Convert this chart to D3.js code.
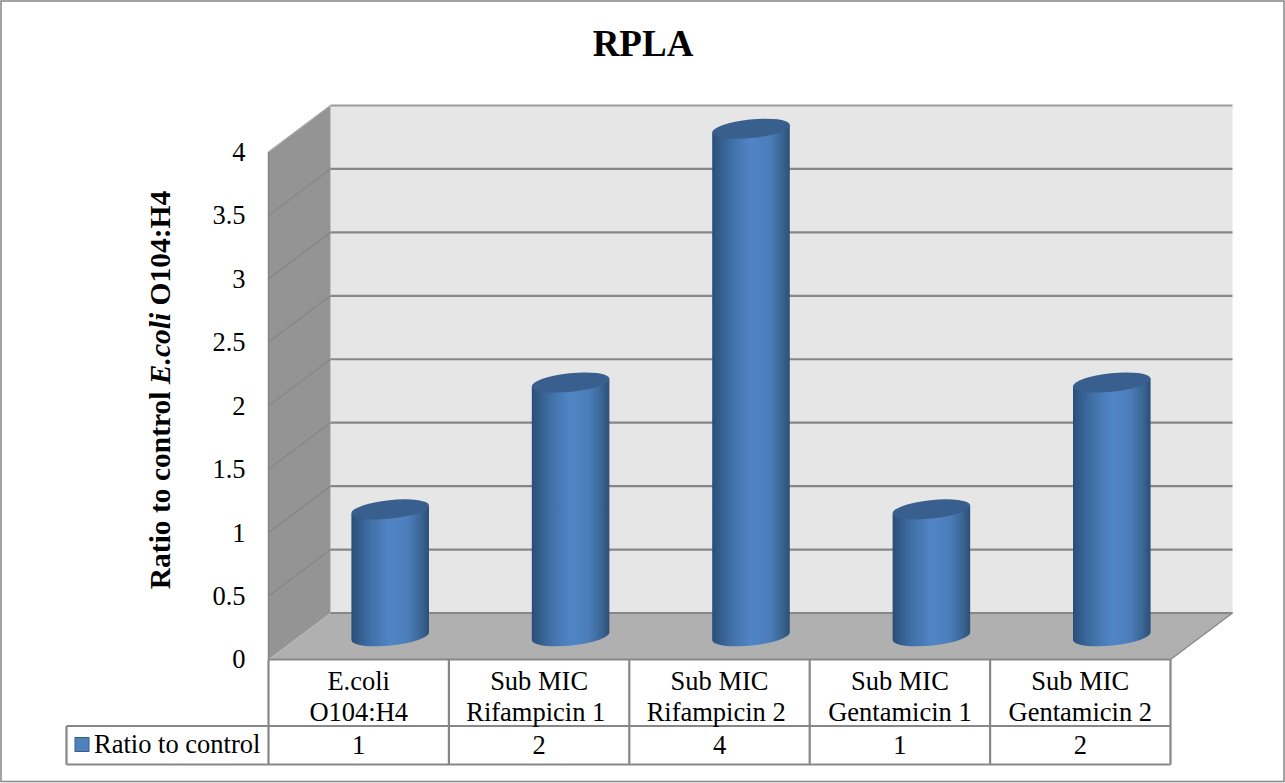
<!DOCTYPE html>
<html>
<head>
<meta charset="utf-8">
<script src="https://cdn.jsdelivr.net/npm/d3@7"></script>
<style>
  html, body { margin: 0; padding: 0; background: #fff; }
  svg { display: block; }
  text { font-family: "Liberation Serif", serif; fill: #000; white-space: pre; }
</style>
</head>
<body>
<svg id="chart" width="1285" height="783"></svg>
<script>
// RPLA: ratio to control per treatment group
const categories = ["E.coli|O104:H4", "Sub MIC|Rifampicin 1 ", "Sub MIC|Rifampicin 2 ", "Sub MIC|Gentamicin 1", "Sub MIC|Gentamicin 2"];
const values = [1, 2, 4, 1, 2];
const yTicks = [0, 0.5, 1, 1.5, 2, 2.5, 3, 3.5, 4];
const seriesName = "Ratio to control";
const chartTitle = "RPLA";

const svg = d3.select("#chart");
const depthX = 62, depthY = -46.5;
const x = d3.scaleBand().domain(categories).range([268.5, 1170.5]);
const y = d3.scaleLinear().domain([0, 4]).range([659.5, 152]);
const x0 = x.range()[0], x1 = x.range()[1], y0 = y(0), yTop = y(4);
const gridColor = "#878787";

// Outer frame of the chart area
svg.append("rect").attr("x", 1).attr("y", 1).attr("width", 1283).attr("height", 780.5)
  .attr("fill", "#fff").attr("stroke", "#8c8c8c").attr("stroke-width", 1.6);

// Cylinder shading
const defs = svg.append("defs");
const grad = defs.append("linearGradient").attr("id", "cyl").attr("x1", 0).attr("x2", 1).attr("y1", 0).attr("y2", 0);
[[0, "#2a4c74"], [0.05, "#2f5683"], [0.25, "#4170a7"], [0.5, "#5085c5"], [0.74, "#4b7dba"], [0.9, "#3a6593"], [1, "#2c4f76"]]
  .forEach(([o, c]) => grad.append("stop").attr("offset", o).attr("stop-color", c));

// Walls and floor of the 3D box
const poly = (pts, fill) => svg.append("polygon").attr("points", pts.map(p => p.join(",")).join(" ")).attr("fill", fill);
poly([[x0 + depthX, yTop + depthY], [x1 + depthX, yTop + depthY], [x1 + depthX, y0 + depthY], [x0 + depthX, y0 + depthY]], "#e6e6e6");
poly([[x0, yTop], [x0 + depthX, yTop + depthY], [x0 + depthX, y0 + depthY], [x0, y0]], "#949494");
poly([[x0, y0], [x0 + depthX, y0 + depthY], [x1 + depthX, y0 + depthY], [x1, y0]], "#b0b0b0");

// Gridlines run along the side wall and across the back wall
const grid = svg.append("g");
yTicks.forEach(t => {
  const yy = y(t);
  if (t > 0) {
    grid.append("line").attr("x1", x0).attr("y1", yy).attr("x2", x0 + depthX).attr("y2", yy + depthY)
      .attr("stroke", t === 4 ? "#a8a8a8" : "#868686").attr("stroke-width", 1.3);
  }
  grid.append("line").attr("x1", x0 + depthX).attr("y1", yy + depthY).attr("x2", x1 + depthX).attr("y2", yy + depthY)
    .attr("stroke", t === 4 ? "#9c9c9c" : gridColor).attr("stroke-width", 2.2);
});
grid.append("line").attr("x1", x0).attr("y1", yTop).attr("x2", x0).attr("y2", y0).attr("stroke", "#868686").attr("stroke-width", 1.5);
grid.append("line").attr("x1", x1).attr("y1", y0).attr("x2", x1 + depthX).attr("y2", y0 + depthY).attr("stroke", "#8a8a8a").attr("stroke-width", 1.5);

// Cylinders
const rx = 39, ry = 9.3, tilt = -6;
const tiltDy = rx * Math.sin(-tilt * Math.PI / 180);
const tiltDx = rx * Math.cos(tilt * Math.PI / 180);
const barCx = i => x(categories[i]) + x.bandwidth() / 2 + depthX / 2 + 0.5;
const bars = svg.append("g").selectAll("g").data(values).join("g");
bars.append("path")
  .attr("fill", "url(#cyl)")
  .attr("d", (d, i) => {
    const cx = barCx(i);
    const base = y(0) + depthY / 2, top = y(d) + depthY / 2;
    return `M${cx - tiltDx},${top + tiltDy}L${cx - tiltDx},${base + tiltDy}` +
      `A${rx},${ry} ${tilt} 0 0 ${cx + tiltDx},${base - tiltDy}` +
      `L${cx + tiltDx},${top - tiltDy}Z`;
  });
bars.append("ellipse")
  .attr("rx", rx).attr("ry", ry).attr("fill", "#385f8e")
  .attr("transform", (d, i) => `translate(${barCx(i)},${y(d) + depthY / 2}) rotate(${tilt})`);

// Value axis labels
const axis = d3.axisLeft(y).tickValues(yTicks).tickSize(0).tickPadding(23).tickFormat(d3.format("~g"));
const axisG = svg.append("g").attr("transform", `translate(${x0},0)`).call(axis);
axisG.select(".domain").remove();
axisG.selectAll("text").attr("font-size", 26.5).attr("font-family", "Liberation Serif").attr("fill", "#000");

// Data table under the plot
const rowTop = y0, rowMid = 726, rowBottom = 764.5, tableLeft = 66.5;
const tableLines = svg.append("g").attr("stroke", "#878787").attr("stroke-width", 2.2).attr("fill", "none");
const seg = (a, b, c, d) => tableLines.append("line").attr("x1", a).attr("y1", b).attr("x2", c).attr("y2", d);
seg(x0, rowTop, x1, rowTop);
seg(tableLeft, rowMid, x1, rowMid);
seg(tableLeft, rowBottom, x1, rowBottom);
seg(tableLeft, rowMid, tableLeft, rowBottom);
seg(x0, rowTop, x0, rowBottom);
categories.forEach(c => seg(x(c) + x.bandwidth(), rowTop, x(c) + x.bandwidth(), rowBottom));

categories.forEach((c, i) => {
  const cx = x(c) + x.bandwidth() / 2;
  const [l1, l2] = c.split("|");
  [[l1, 690], [l2, 721]].forEach(([s, by]) =>
    svg.append("text").attr("x", cx).attr("y", by).attr("text-anchor", "middle").attr("font-size", 26.5).text(s));
  svg.append("text").attr("x", cx).attr("y", 754).attr("text-anchor", "middle").attr("font-size", 26.5).text(values[i]);
});

// Legend key and series name
svg.append("rect").attr("x", 75).attr("y", 737.5).attr("width", 14).attr("height", 14)
  .attr("fill", "#4f81bd").attr("stroke", "#385d8a").attr("stroke-width", 1);
svg.append("text").attr("x", 94).attr("y", 753).attr("font-size", 26.5).text(seriesName);

// Titles
svg.append("text").attr("x", 643).attr("y", 56).attr("text-anchor", "middle")
  .attr("font-size", 37).attr("font-weight", "bold").text(chartTitle);
const yTitle = svg.append("text").attr("transform", "translate(170,390) rotate(-90)")
  .attr("text-anchor", "middle").attr("font-size", 29.5).attr("font-weight", "bold");
yTitle.append("tspan").text("Ratio to control ");
yTitle.append("tspan").attr("font-style", "italic").text("E.coli");
yTitle.append("tspan").text(" O104:H4");
</script>
</body>
</html>
